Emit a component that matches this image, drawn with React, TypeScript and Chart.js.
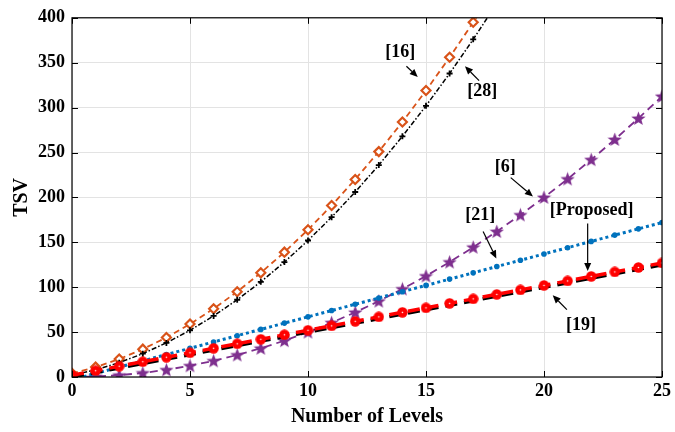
import React, { useEffect, useRef } from "react";
import { Chart, registerables } from "chart.js";

Chart.register(...registerables);

const levels = Array.from({ length: 26 }, (_, i) => i);

const ref16 = [4, 11, 20, 31, 44, 59, 76, 95, 116, 139, 164, 191, 220, 251, 284, 319, 356, 395, 436];
const ref28 = [2, 8, 16, 26, 38, 52, 68, 86, 106, 128, 152, 178, 206, 236, 268, 302, 338, 376, 416];
const ref6 = [0, 0.5, 2, 4.5, 8, 12.5, 18, 24.5, 32, 40.5, 50, 60.5, 72, 84.5, 98, 112.5, 128, 144.5, 162, 180.5, 200, 220.5, 242, 264.5, 288, 312.5];
const ref21 = [-3, 4, 11, 18, 25, 32, 39, 46, 53, 60, 67, 74, 81, 88, 95, 102, 109, 116, 123, 130, 137, 144, 151, 158, 165, 172];
const proposed = [2, 7, 12, 17, 22, 27, 32, 37, 42, 47, 52, 57, 62, 67, 72, 77, 82, 87, 92, 97, 102, 107, 112, 117, 122, 127];
const ref19 = [0, 5, 10, 15, 20, 25, 30, 35, 40, 45, 50, 55, 60, 65, 70, 75, 80, 85, 90, 95, 100, 105, 110, 115, 120, 125];

const xTicks = [0, 5, 10, 15, 20, 25];
const yTicks = [0, 50, 100, 150, 200, 250, 300, 350, 400];

// annotations: text position and arrow (from -> to) in data units
const notes = [
  { text: "[16]", tx: 13.91, ty: 362, ax1: 14.17, ay1: 346, ax2: 14.65, ay2: 334 },
  { text: "[28]", tx: 17.38, ty: 318, ax1: 17.25, ay1: 330, ax2: 16.65, ay2: 346 },
  { text: "[6]", tx: 18.36, ty: 233, ax1: 18.59, ay1: 222, ax2: 19.53, ay2: 201 },
  { text: "[21]", tx: 17.3, ty: 180, ax1: 17.42, ay1: 162, ax2: 17.98, ay2: 132 },
  { text: "[Proposed]", tx: 22.02, ty: 186, ax1: 21.85, ay1: 171, ax2: 21.85, ay2: 118 },
  { text: "[19]", tx: 21.57, ty: 57, ax1: 20.97, ay1: 75, ax2: 20.37, ay2: 91 },
];

const FONT = "'Liberation Serif', 'Times New Roman', serif";

function makeStar(color: string, size: number) {
  const c = document.createElement("canvas");
  c.width = size;
  c.height = size;
  const ctx = c.getContext("2d")!;
  const cx = size / 2, cy = size / 2 + 0.5;
  const R = size / 2, r = R * 0.42;
  ctx.beginPath();
  for (let i = 0; i < 10; i++) {
    const ang = -Math.PI / 2 + (i * Math.PI) / 5;
    const rad = i % 2 === 0 ? R : r;
    const x = cx + rad * Math.cos(ang);
    const y = cy + rad * Math.sin(ang);
    if (i === 0) ctx.moveTo(x, y);
    else ctx.lineTo(x, y);
  }
  ctx.closePath();
  ctx.fillStyle = color;
  ctx.fill();
  return c;
}

function makeDot(color: string, size: number) {
  const c = document.createElement("canvas");
  c.width = size;
  c.height = size;
  const ctx = c.getContext("2d")!;
  ctx.beginPath();
  ctx.arc(size / 2, size / 2, size / 2 - 0.3, 0, Math.PI * 2);
  ctx.fillStyle = color;
  ctx.fill();
  ctx.beginPath();
  ctx.arc(size / 2, size / 2, 0.8, 0, Math.PI * 2);
  ctx.fillStyle = "#FFFFFF";
  ctx.fill();
  return c;
}

const pts = (arr: number[]) => arr.map((v, i) => ({ x: levels[i], y: v }));

export default function App() {
  const canvasRef = useRef<HTMLCanvasElement | null>(null);

  useEffect(() => {
    document.body.style.margin = "0";
    const star = makeStar("#7E2F8E", 15);
    const dot = makeDot("#FF0000", 11);

    const framePlugin = {
      id: "frame",
      afterDatasetsDraw(chart: any) {
        const { ctx, chartArea: a, scales } = chart;
        const xs = scales.x, ys = scales.y;
        ctx.save();
        ctx.strokeStyle = "#000";
        ctx.lineWidth = 1.2;
        ctx.strokeRect(a.left, a.top, a.right - a.left, a.bottom - a.top);
        ctx.lineWidth = 1;
        const tl = 6;
        ctx.beginPath();
        xTicks.forEach((t) => {
          const px = Math.round(xs.getPixelForValue(t)) + 0.5;
          ctx.moveTo(px, a.bottom);
          ctx.lineTo(px, a.bottom - tl);
          ctx.moveTo(px, a.top);
          ctx.lineTo(px, a.top + tl);
        });
        yTicks.forEach((t) => {
          const py = Math.round(ys.getPixelForValue(t)) + 0.5;
          ctx.moveTo(a.left, py);
          ctx.lineTo(a.left + tl, py);
          ctx.moveTo(a.right, py);
          ctx.lineTo(a.right - tl, py);
        });
        ctx.stroke();

        // annotations
        ctx.fillStyle = "#000";
        ctx.font = `bold 18px ${FONT}`;
        ctx.textAlign = "center";
        ctx.textBaseline = "middle";
        notes.forEach((n) => {
          ctx.fillText(n.text, xs.getPixelForValue(n.tx), ys.getPixelForValue(n.ty));
          const x1 = xs.getPixelForValue(n.ax1), y1 = ys.getPixelForValue(n.ay1);
          const x2 = xs.getPixelForValue(n.ax2), y2 = ys.getPixelForValue(n.ay2);
          const ang = Math.atan2(y2 - y1, x2 - x1);
          const hl = 8, hw = 3.5;
          const bx = x2 - hl * Math.cos(ang), by = y2 - hl * Math.sin(ang);
          ctx.beginPath();
          ctx.moveTo(x1, y1);
          ctx.lineTo(bx, by);
          ctx.lineWidth = 1.2;
          ctx.stroke();
          ctx.beginPath();
          ctx.moveTo(x2, y2);
          ctx.lineTo(bx + hw * Math.sin(ang), by - hw * Math.cos(ang));
          ctx.lineTo(bx - hw * Math.sin(ang), by + hw * Math.cos(ang));
          ctx.closePath();
          ctx.fill();
        });
        ctx.restore();
      },
    };

    const chart = new Chart(canvasRef.current!, {
      type: "line",
      data: {
        datasets: [
          {
            label: "[Proposed]",
            data: pts(proposed),
            borderColor: "#FF0000",
            backgroundColor: "#FF0000",
            borderWidth: 3.5,
            borderDash: [12, 7],
            pointStyle: dot as any,
            pointRadius: 5.5,
            order: 0,
          },
          {
            label: "[19]",
            data: pts(ref19),
            borderColor: "#000000",
            borderWidth: 3.5,
            borderDash: [12, 7],
            pointRadius: 0,
            order: 1,
          },
          {
            label: "[21]",
            data: pts(ref21),
            borderColor: "#0072BD",
            backgroundColor: "#0072BD",
            borderWidth: 3,
            borderDash: [3, 3],
            pointStyle: "circle",
            pointRadius: 2.8,
            pointBorderWidth: 0,
            pointBackgroundColor: "#0072BD",
            order: 2,
          },
          {
            label: "[6]",
            data: pts(ref6),
            borderColor: "#7E2F8E",
            borderWidth: 1.8,
            borderDash: [8, 5],
            pointStyle: star as any,
            pointRadius: 7,
            order: 3,
          },
          {
            label: "[28]",
            data: pts(ref28),
            borderColor: "#000000",
            borderWidth: 1.5,
            borderDash: [5, 2, 1.5, 2],
            pointStyle: "cross",
            pointRadius: 3,
            pointBorderWidth: 1.8,
            pointBorderColor: "#000000",
            order: 4,
          },
          {
            label: "[16]",
            data: pts(ref16),
            borderColor: "#D95319",
            borderWidth: 1.8,
            borderDash: [6, 4],
            pointStyle: "rectRot",
            pointRadius: 4.5,
            pointBorderWidth: 2.2,
            pointBorderColor: "#D95319",
            pointBackgroundColor: "#FFFFFF",
            order: 5,
          },
        ],
      },
      options: {
        animation: false,
        responsive: false,
        maintainAspectRatio: false,
        parsing: false as any,
        layout: { padding: { left: 0, top: 17, right: 10, bottom: 0 } },
        plugins: { legend: { display: false }, tooltip: { enabled: false } },
        elements: { line: { tension: 0 } },
        scales: {
          x: {
            type: "linear",
            min: 0,
            max: 25,
            afterFit: (s: any) => {
              s.height = 55;
            },
            afterBuildTicks: (s: any) => {
              s.ticks = xTicks.map((v) => ({ value: v }));
            },
            ticks: {
              color: "#000",
              padding: 4,
              maxRotation: 0,
              font: { family: FONT, weight: "bold", size: 18 },
            },
            grid: { color: "#E3E3E3", drawTicks: false, lineWidth: 1 },
            border: { display: false },
            title: {
              display: true,
              text: "Number of Levels",
              color: "#000",
              font: { family: FONT, weight: "bold", size: 20 },
              padding: { top: 0, bottom: 3 },
            },
          },
          y: {
            type: "linear",
            min: 0,
            max: 400,
            afterFit: (s: any) => {
              s.width = 72;
            },
            afterBuildTicks: (s: any) => {
              s.ticks = yTicks.map((v) => ({ value: v }));
            },
            ticks: {
              color: "#000",
              padding: 7,
              font: { family: FONT, weight: "bold", size: 18 },
            },
            grid: { color: "#E3E3E3", drawTicks: false, lineWidth: 1 },
            border: { display: false },
            title: {
              display: true,
              text: "TSV",
              color: "#000",
              font: { family: FONT, weight: "bold", size: 20 },
              padding: { top: 10, bottom: 0 },
            },
          },
        },
      },
      plugins: [framePlugin],
    });
    return () => chart.destroy();
  }, []);

  return <canvas ref={canvasRef} width={675} height={432} style={{ display: "block" }} />;
}
